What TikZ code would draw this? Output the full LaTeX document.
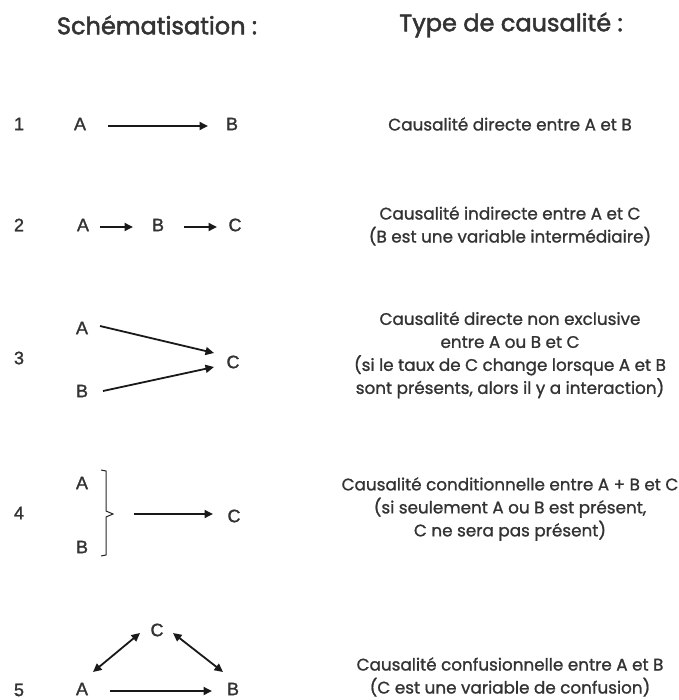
\documentclass[tikz,border=0pt]{standalone}
\usepackage{fontspec}
\setmainfont{Poppins}
\newfontfamily\descfont{Poppins}[RawFeature={embolden=1.2}]
\newfontfamily\titrefont{Poppins}[RawFeature={embolden=2}]
\newfontfamily\lettrefont{Liberation Sans}[RawFeature={embolden=1.5}]
\usetikzlibrary{arrows.meta}
\definecolor{texte}{HTML}{333333}
\definecolor{lettre}{HTML}{333333}

\begin{document}
\begin{tikzpicture}[x=1pt,y=-1pt,
  var/.style={inner sep=0pt,font=\lettrefont\fontsize{18}{18}\selectfont,text=lettre},
  titre/.style={inner sep=0pt,font=\titrefont\fontsize{24}{28}\selectfont,text=texte},
  desc/.style={inner sep=0pt,align=center,font=\descfont\fontsize{16.8}{23}\selectfont,text=texte},
  fleche/.style={line width=1.8pt,draw=black!90,-{Triangle[length=8.5pt,width=8pt]}},
  flechedouble/.style={line width=1.8pt,draw=black!90,{Triangle[length=8.5pt,width=8pt]}-{Triangle[length=8.5pt,width=8pt]}}]
  \useasboundingbox (0,0) rectangle (678,700);
  % titres
  \node[titre] (schema) at (157,25) {Schématisation :};
  \node[titre] (type) at (511,25) {Type de causalité :};
  % numeros
  \node[var] (n1) at (19,124) {1};
  \node[var] (n2) at (19,225) {2};
  \node[var] (n3) at (19,358) {3};
  \node[var] (n4) at (19,513) {4};
  \node[var] (n5) at (19,690) {5};
  % 1 : directe
  \node[var] (a1) at (80,124) {A};
  \node[var] (b1) at (232,124) {B};
  \draw[fleche] ([shift={(28,2)}]a1.center) -- ([shift={(-24,2)}]b1.center);
  \node[desc] (d1) at (510,124) {Causalité directe entre A et B};
  % 2 : indirecte
  \node[var] (a2) at (83,225) {A};
  \node[var] (b2) at (158,225) {B};
  \node[var] (c2) at (235,225) {C};
  \draw[fleche] ([shift={(17,2)}]a2.center) -- ([shift={(-25,2)}]b2.center);
  \draw[fleche] ([shift={(26,2)}]b2.center) -- ([shift={(-18,2)}]c2.center);
  \node[desc] (d2) at (510,226) {Causalité indirecte entre A et C\\(B est une variable intermédiaire)};
  % 3 : non exclusive
  \node[var] (a3) at (82,328) {A};
  \node[var] (b3) at (82,391) {B};
  \node[var] (c3) at (233,362) {C};
  \draw[fleche] ([shift={(18,-2)}]a3.center) -- ([shift={(-19,-9)}]c3.center);
  \draw[fleche] ([shift={(21,0)}]b3.center) -- ([shift={(-19,5)}]c3.center);
  \node[desc] (d3) at (510,355) {Causalité directe non exclusive\\entre A ou B et C\\(si le taux de C change lorsque A et B\\sont présents, alors il y a interaction)};
  % 4 : conditionnelle
  \node[var] (a4) at (82,483) {A};
  \node[var] (b4) at (82,547) {B};
  \node[var] (c4) at (234,516) {C};
  \coordinate (pointe4) at (113,514);
  \draw[line width=1pt,draw=black!85] (101,470) -- (106,471) -- (106,511) -- (pointe4) -- (106,517) -- (106,555) -- (101,556);
  \draw[fleche] ([shift={(21,0)}]pointe4) -- ([shift={(-21,-2)}]c4.center);
  \node[desc] (d4) at (510,509) {Causalité conditionnelle entre A + B et C\\(si seulement A ou B est présent,\\C ne sera pas présent)};
  % 5 : confusionnelle
  \node[var] (c5) at (157,630) {C};
  \node[var] (a5) at (82,689) {A};
  \node[var] (b5) at (233,689) {B};
  \draw[flechedouble] ([shift={(11,-17)}]a5.center) -- ([shift={(-17,3)}]c5.center);
  \draw[flechedouble] ([shift={(16,3)}]c5.center) -- ([shift={(-10,-17)}]b5.center);
  \draw[fleche] ([shift={(28,2)}]a5.center) -- ([shift={(-21,2)}]b5.center);
  \node[desc] (d5) at (510,677) {Causalité confusionnelle entre A et B\\(C est une variable de confusion)};
\end{tikzpicture}
\end{document}
